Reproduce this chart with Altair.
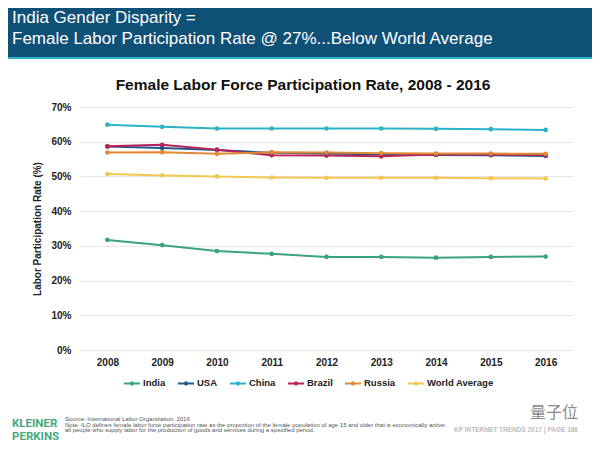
import altair as alt
import pandas as pd

years = ["2008", "2009", "2010", "2011", "2012", "2013", "2014", "2015", "2016"]
series_names = ["India", "USA", "China", "Brazil", "Russia", "World Average"]
india = [31.7, 30.2, 28.5, 27.7, 26.8, 26.8, 26.6, 26.8, 26.9]
usa = [58.6, 58.2, 57.6, 56.8, 56.6, 56.3, 56.2, 56.1, 55.9]
china = [64.9, 64.3, 63.8, 63.8, 63.8, 63.8, 63.7, 63.6, 63.4]
brazil = [58.7, 59.1, 57.7, 56.1, 56.0, 55.8, 56.3, 56.3, 56.2]
russia = [56.9, 57.0, 56.5, 57.0, 56.9, 56.7, 56.6, 56.6, 56.5]
world = [50.7, 50.3, 50.0, 49.7, 49.6, 49.6, 49.6, 49.5, 49.4]
colors = ["#3aa383", "#1f5a8c", "#2ab3c6", "#b8215a", "#de8a35", "#f3c851"]

y_ticks = [0, 0.1, 0.2, 0.3, 0.4, 0.5, 0.6, 0.7]

header_line1 = "India Gender Disparity ="
header_line2 = "Female Labor Participation Rate @ 27%...Below World Average"
chart_title = "Female Labor Force Participation Rate, 2008 - 2016"
y_title = "Labor Participation Rate (%)"
source_lines = [
    "Source: International Labor Organization, 2016",
    "Note: ILO defines female labor force participation rate as the proportion of the female population of age 15 and older that is economically active:",
    "all people who supply labor for the production of goods and services during a specified period.",
]
footer_right = "KP INTERNET TRENDS 2017  |  PAGE 186"

rows = []
for name, vals in zip(series_names, [india, usa, china, brazil, russia, world]):
    for yr, v in zip(years, vals):
        rows.append({"Year": yr, "Series": name, "Rate": v / 100})
df = pd.DataFrame(rows)

FONT = "Liberation Sans"

lines = alt.Chart(df).mark_line(
    strokeWidth=2,
    point=alt.OverlayMarkDef(size=22, filled=True, opacity=1),
).encode(
    x=alt.X("Year:O", scale=alt.Scale(type="point", padding=0.5),
            axis=alt.Axis(title=None, labelAngle=0, labelFontWeight="bold", labelFontSize=10,
                          labelColor="#222", labelFont=FONT, labelPadding=7, ticks=False,
                          domain=False, grid=False)),
    y=alt.Y("Rate:Q", scale=alt.Scale(domain=[0, 0.7], nice=False),
            axis=alt.Axis(title=y_title, format=".0%", values=y_ticks, labelFontWeight="bold",
                          labelFontSize=10, labelColor="#222", labelFont=FONT, labelPadding=9,
                          ticks=False, domain=False, gridColor="#e6e6e6", gridWidth=1,
                          titleFont=FONT, titleFontSize=10, titleFontWeight="bold",
                          titleColor="#222", titlePadding=8)),
    color=alt.Color("Series:N", sort=series_names,
                    scale=alt.Scale(domain=series_names, range=colors),
                    legend=alt.Legend(
                        title=None, orient="none", direction="horizontal",
                        legendX=43, legendY=267,
                        symbolType="M-1,0L1,0M0.14,0A0.14,0.14,0,1,1,-0.14,0A0.14,0.14,0,1,1,0.14,0Z",
                        symbolSize=256, symbolStrokeWidth=2,
                        labelFont=FONT, labelFontSize=9.5, labelFontWeight="bold",
                        labelColor="#222", labelOffset=2, columnPadding=8)),
)

one = alt.Data(values=[{}])

header_band = alt.Chart(one).mark_rect(color="#0f5076").encode(
    x=alt.value(-72), x2=alt.value(512), y=alt.value(-99), y2=alt.value(-50))
header_stripe = alt.Chart(one).mark_rect(color="#2ab3c6").encode(
    x=alt.value(-72), x2=alt.value(512), y=alt.value(-50), y2=alt.value(-48))

def txt(text, x, y, size, color, weight="normal", font=FONT, align="left", baseline="alphabetic"):
    return alt.Chart(one).mark_text(
        text=text, font=font, fontSize=size, fontWeight=weight, color=color,
        align=align, baseline=baseline,
    ).encode(x=alt.value(x), y=alt.value(y))

KP_FONT = "Roboto"

layers = [
    header_band,
    header_stripe,
    txt(header_line1, -68, -84, 17, "white"),
    txt(header_line2, -68, -63, 17, "white"),
    txt(chart_title, 223, -22, 15.5, "#111", weight="bold", align="center", baseline="middle"),
    lines,
    txt("KLEINER", -68, 320, 11.5, "#45a87e", weight="bold", font=KP_FONT),
    txt("PERKINS", -68, 333, 11.5, "#45a87e", weight="bold", font=KP_FONT),
    txt(source_lines[0], -15, 314, 6, "#555"),
    txt(source_lines[1], -15, 319.5, 6, "#555"),
    txt(source_lines[2], -15, 325, 6, "#555"),
    txt(footer_right, 498, 325, 6.5, "#bdbdbd", weight="bold", align="right"),
    txt("量子位", 498, 306, 16, "#8a8a8a", font="Noto Sans CJK SC", align="right", baseline="middle"),
]

chart = alt.layer(*layers).properties(
    width=493, height=243,
    autosize=alt.AutoSizeParams(type="none"),
    padding={"left": 72, "top": 99, "right": 19, "bottom": 92},
    background="white",
).configure_view(stroke=None)

chart.save("out.html", embed_options={"renderer": "svg", "actions": False})
